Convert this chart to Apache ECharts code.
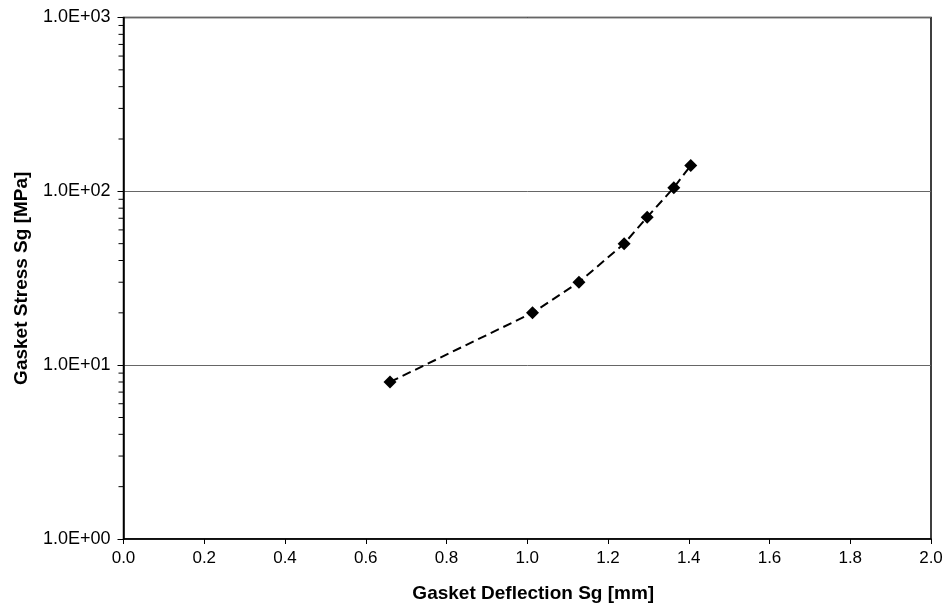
<!DOCTYPE html>
<html>
<head>
<meta charset="utf-8">
<script src="https://cdn.jsdelivr.net/npm/echarts@6/dist/echarts.min.js"></script>
<style>
  html, body { margin: 0; padding: 0; background: #fff; }
  #chart { width: 947px; height: 610px; }
</style>
</head>
<body>
<div id="chart"></div>
<script>
// gasket deflection [mm] vs stress [MPa]
const deflection = [0.66, 1.013, 1.128, 1.24, 1.297, 1.363, 1.405];
const stress = [8, 20, 30, 50, 71, 105, 141];
// minor log ticks between decades
const minorTicks = [2, 3, 4, 5, 6, 7, 8, 9, 20, 30, 40, 50, 60, 70, 80, 90, 200, 300, 400, 500, 600, 700, 800, 900];

const font = '"Liberation Sans", Arial, sans-serif';

function expLabel(v) {
    const e = Math.round(Math.log10(v));
    const m = v / Math.pow(10, e);
    const s = Math.abs(e) < 10 ? '0' + Math.abs(e) : '' + Math.abs(e);
    return m.toFixed(1) + 'E' + (e < 0 ? '-' : '+') + s;
}

const myChart = echarts.init(document.getElementById('chart'));
const option = {
    animation: false,
    grid: {
        left: 123.5, right: 16, top: 17.5, bottom: 71,
        show: true, borderColor: '#000', borderWidth: 1.5
    },
    xAxis: {
        type: 'value',
        min: 0, max: 2, interval: 0.2,
        name: 'Gasket Deflection Sg [mm]',
        nameLocation: 'middle',
        nameGap: 45,
        nameTextStyle: { fontFamily: font, fontSize: 19, fontWeight: 'bold', color: '#000', padding: [0, 0, 0, 12] },
        axisLine: { lineStyle: { color: '#000', width: 1.5 } },
        axisTick: { inside: false, length: 5, lineStyle: { color: '#000' } },
        axisLabel: { fontFamily: font, fontSize: 17, color: '#000', margin: 11,
            formatter: v => v.toFixed(1) },
        splitLine: { show: false }
    },
    yAxis: {
        type: 'log',
        logBase: 10,
        min: 1, max: 1000,
        name: 'Gasket Stress Sg [MPa]',
        nameLocation: 'middle',
        nameGap: 92,
        nameTextStyle: { fontFamily: font, fontSize: 19, fontWeight: 'bold', color: '#000' },
        axisLine: { lineStyle: { color: '#000', width: 1.5 } },
        axisTick: { inside: false, length: 6, lineStyle: { color: '#000' } },
        axisLabel: { fontFamily: font, fontSize: 18, color: '#000', margin: 13,
            formatter: expLabel },
        splitLine: { show: true, lineStyle: { color: '#666', width: 1 } }
    },
    series: [
        {
            type: 'line',
            data: deflection.map((d, i) => [d, stress[i]]),
            lineStyle: { color: '#000', width: 2, type: [9, 5] },
            symbol: 'diamond',
            symbolSize: 13,
            itemStyle: { color: '#000' },
            z: 3
        },
        {
            type: 'custom',
            data: minorTicks.map(v => [0, v]),
            clip: false,
            silent: true,
            renderItem: function (params, api) {
                const p = api.coord([0, api.value(1)]);
                return {
                    type: 'line',
                    shape: { x1: p[0] - 5, y1: p[1], x2: p[0], y2: p[1] },
                    style: { stroke: '#000', lineWidth: 1 }
                };
            }
        }
    ]
};
myChart.setOption(option);
</script>
</body>
</html>
